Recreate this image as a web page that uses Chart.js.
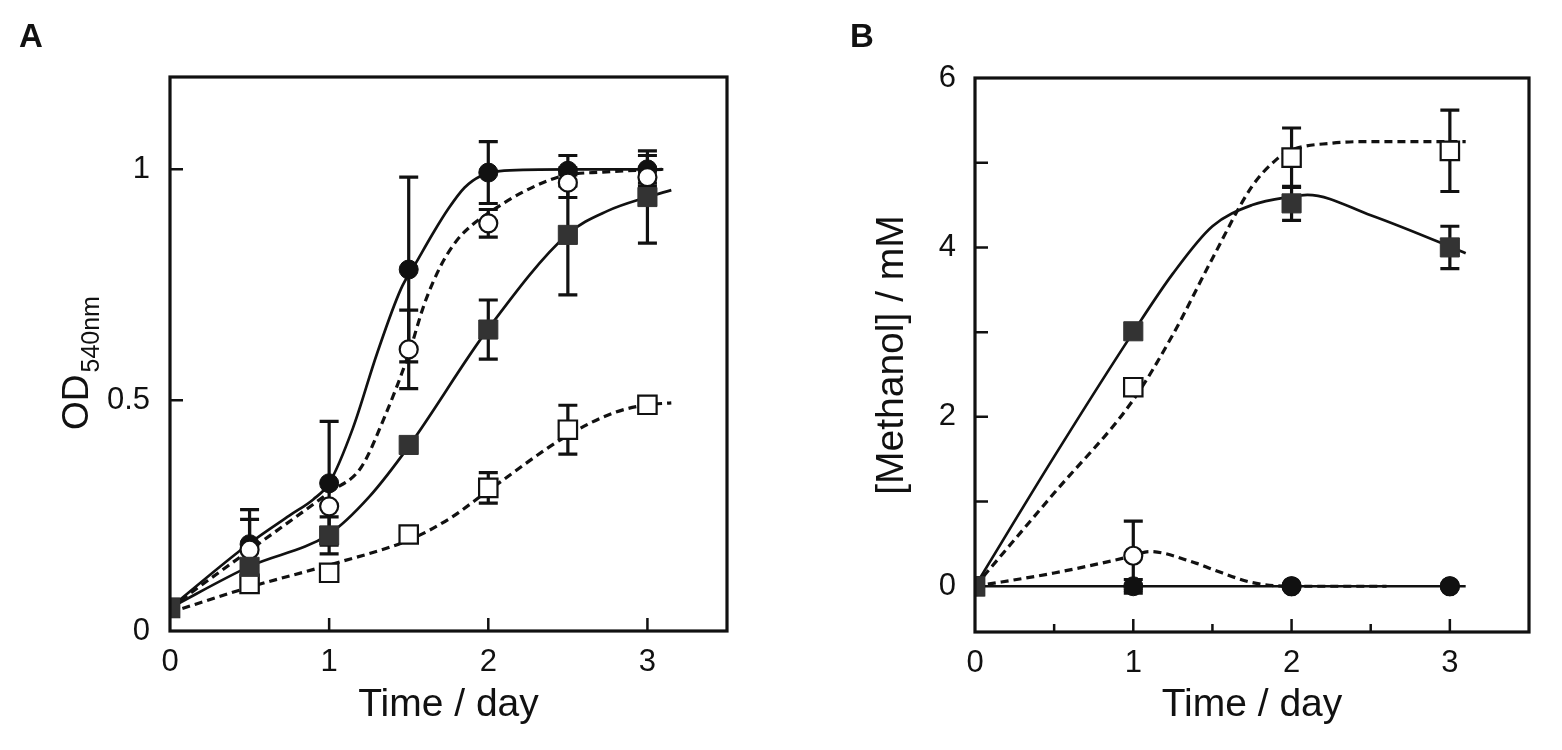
<!DOCTYPE html>
<html>
<head>
<meta charset="utf-8">
<script src="https://cdn.jsdelivr.net/npm/chart.js@4.4.1/dist/chart.umd.min.js"></script>
<style>
  body { margin: 0; background: #fff; }
  #wrap { position: relative; width: 1562px; height: 750px; overflow: hidden; }
  .panel { position: absolute; top: 0; width: 781px; height: 750px; }
  .letter { position: absolute; font: bold 33px 'Liberation Sans', Arial, sans-serif; line-height: 1; color: #111; }
</style>
</head>
<body>
<div id="wrap">
  <div class="panel" style="left:0"><canvas id="chartA" width="781" height="750"></canvas></div>
  <div class="panel" style="left:781px"><canvas id="chartB" width="781" height="750"></canvas></div>
  <div class="letter" style="left:19px;top:19px">A</div>
  <div class="letter" style="left:850px;top:19px">B</div>
</div>
<script>
// ---- panel A : OD540nm ----
const dayA = [0, 0.5, 1, 1.5, 2, 2.5, 3];
const odFilledCircle = [0.05, 0.188, 0.32, 0.783, 0.993, 0.997, 1.0];
const odFilledCircleErr = [0, 0.075, 0.134, 0.2, 0.067, 0.033, 0.03];
const odOpenCircle = [0.05, 0.176, 0.27, 0.61, 0.883, 0.971, 0.983];
const odOpenCircleErr = [0, 0.066, 0, 0.085, 0.03, 0.032, 0.02];
const odFilledSquare = [0.05, 0.139, 0.207, 0.403, 0.653, 0.858, 0.94];
const odFilledSquareErr = [0, 0, 0.04, 0, 0.064, 0.13, 0.1];
const odOpenSquare = [0.05, 0.102, 0.126, 0.209, 0.31, 0.436, 0.49];
const odOpenSquareErr = [0, 0, 0, 0, 0.033, 0.053, 0];

// fitted curves
const fitAFilledCircleX = [0, 0.5, 0.75, 0.9, 1, 1.15, 1.3, 1.45, 1.55, 1.65, 1.75, 1.85, 1.95, 2.1, 2.5, 3.1];
const fitAFilledCircleY = [0.05, 0.19, 0.25, 0.285, 0.32, 0.44, 0.6, 0.74, 0.8, 0.86, 0.915, 0.96, 0.985, 0.997, 1.0, 1.0];
const fitAOpenCircleX = [0, 0.5, 1, 1.2, 1.35, 1.5, 1.6, 1.7, 1.8, 1.9, 2, 2.23, 2.47, 2.72, 3.1];
const fitAOpenCircleY = [0.05, 0.175, 0.3, 0.354, 0.465, 0.6, 0.71, 0.79, 0.845, 0.88, 0.905, 0.953, 0.986, 0.994, 1.0];
const fitAFilledSquareX = [0, 0.5, 1, 1.25, 1.5, 2, 2.5, 2.75, 3, 3.15];
const fitAFilledSquareY = [0.05, 0.14, 0.21, 0.29, 0.4, 0.655, 0.86, 0.91, 0.94, 0.955];
const fitAOpenSquareX = [0, 0.5, 1, 1.5, 1.75, 2, 2.5, 2.8, 3, 3.15];
const fitAOpenSquareY = [0.04, 0.095, 0.143, 0.197, 0.242, 0.304, 0.424, 0.474, 0.49, 0.494];

const xLabelsA = [0, 1, 2, 3];
const yLabelsA = [0, 0.5, 1];
const xTicksA = [1, 2, 3];
const yTicksA = [0.5, 1];

// ---- panel B : methanol ----
const dayB = [0, 1, 2, 3];
const meohFilledSquare = [0, 3.01, 4.52, 4.0];
const meohFilledSquareErr = [0, 0, 0.2, 0.25];
const meohOpenSquare = [0, 2.35, 5.06, 5.14];
const meohOpenSquareErr = [0, 0, 0.35, 0.48];
const meohOpenCircle = [0, 0.36, 0, 0];
const meohOpenCircleErr = [0, 0.41, 0, 0];
const meohFilledCircle = [0, 0, 0, 0];
const meohFilledCircleErr = [0, 0.08, 0, 0];

const fitBFilledSquareX = [0, 0.5, 1, 1.25, 1.5, 1.75, 2, 2.1, 2.5, 3, 3.1];
const fitBFilledSquareY = [0, 1.53, 3.0, 3.69, 4.25, 4.5, 4.6, 4.62, 4.38, 4.01, 3.93];
const fitBOpenSquareX = [0, 0.5, 1, 1.25, 1.5, 1.75, 1.9, 2, 2.25, 2.5, 3.1];
const fitBOpenSquareY = [0, 1.1, 2.2, 2.97, 3.87, 4.72, 5.03, 5.15, 5.23, 5.25, 5.25];
const fitBOpenCircleX = [0, 0.5, 1, 1.1, 1.4, 1.5, 1.75, 2, 2.6];
const fitBOpenCircleY = [0, 0.157, 0.36, 0.41, 0.27, 0.2, 0.045, 0, 0];
const fitBFilledCircleX = [0, 3.1];
const fitBFilledCircleY = [0, 0];

const xLabelsB = [0, 1, 2, 3];
const yLabelsB = [0, 2, 4, 6];
const xTicksB = [1, 2, 3];
const xMinorTicksB = [0.5, 1.5, 2.5];
const yTicksB = [1, 2, 3, 4, 5];

const FONT = "'Liberation Sans', Arial, sans-serif";
const INK = '#111';

const pts = (xs, ys) => xs.map((x, i) => ({ x: x, y: ys[i] }));

const STYLE = {
   filledCircle: { pointStyle: 'circle', pointRadius: 9.5, backgroundColor: INK, borderColor: INK, borderWidth: 1 },
   openCircle: { pointStyle: 'circle', pointRadius: 9, backgroundColor: '#fff', borderColor: INK, borderWidth: 2.2 },
   filledSquare: { pointStyle: 'rect', pointRadius: 13.5, backgroundColor: '#333', borderColor: '#333', borderWidth: 1 },
   openSquare: { pointStyle: 'rect', pointRadius: 13, backgroundColor: '#fff', borderColor: INK, borderWidth: 2.2 },
};

function markers(xs, ys, errs, style, order) {
   return Object.assign({ data: pts(xs, ys), errorBars: errs, showLine: false, order: order }, STYLE[style]);
}

function curve(xs, ys, dashed, order) {
   return {
      data: pts(xs, ys), showLine: true, pointRadius: 0, fill: false,
      borderColor: INK, borderWidth: dashed ? 3.2 : 2.7, borderDash: dashed ? [8, 5] : [],
      cubicInterpolationMode: 'monotone', order: order,
   };
}

// frame, inward ticks and error bars
const frameTicks = {
   id: 'frameTicks',
   beforeDatasetsDraw(chart) {
      const { ctx, scales: { x, y } } = chart;
      ctx.save();
      ctx.strokeStyle = INK;
      ctx.lineWidth = 3.2;
      chart.data.datasets.forEach(ds => {
         if (!ds.errorBars) return;
         ds.data.forEach((p, i) => {
            const e = ds.errorBars[i];
            if (!e) return;
            const px = x.getPixelForValue(p.x);
            const top = y.getPixelForValue(p.y + e);
            const bot = y.getPixelForValue(p.y - e);
            ctx.beginPath();
            ctx.moveTo(px, top); ctx.lineTo(px, bot);
            ctx.moveTo(px - 9.5, top); ctx.lineTo(px + 9.5, top);
            ctx.moveTo(px - 9.5, bot); ctx.lineTo(px + 9.5, bot);
            ctx.stroke();
         });
      });
      ctx.restore();
   },
   afterDraw(chart, args, opts) {
      const { ctx, chartArea: a, scales: { x, y } } = chart;
      ctx.save();
      ctx.strokeStyle = INK;
      ctx.lineWidth = 2.5;
      ctx.beginPath();
      (opts.xMajor || []).forEach(v => { const px = x.getPixelForValue(v); ctx.moveTo(px, a.bottom); ctx.lineTo(px, a.bottom - 13); });
      (opts.xMinor || []).forEach(v => { const px = x.getPixelForValue(v); ctx.moveTo(px, a.bottom); ctx.lineTo(px, a.bottom - 8); });
      (opts.yMajor || []).forEach(v => { const py = y.getPixelForValue(v); ctx.moveTo(a.left, py); ctx.lineTo(a.left + 13, py); });
      ctx.stroke();
      ctx.lineWidth = 3.2;
      ctx.strokeRect(a.left, a.top, a.right - a.left, a.bottom - a.top);
      ctx.restore();
   }
};

// OD with subscript 540nm
const odTitle = {
   id: 'odTitle',
   afterDraw(chart) {
      const ctx = chart.ctx;
      ctx.save();
      ctx.translate(88, 430);
      ctx.rotate(-Math.PI / 2);
      ctx.fillStyle = INK;
      ctx.textAlign = 'left';
      ctx.textBaseline = 'alphabetic';
      ctx.font = '37px ' + FONT;
      ctx.fillText('OD', 0, 0);
      const w = ctx.measureText('OD').width;
      ctx.font = '25px ' + FONT;
      ctx.fillText('540nm', w + 2, 11);
      ctx.restore();
   }
};

function axisOptions(min, max, labels, size, pad, title, titlePad) {
   return {
      type: 'linear', min: min, max: max,
      grid: { display: false }, border: { display: false },
      afterBuildTicks: s => { s.ticks = labels.map(v => ({ value: v })); },
      ticks: { autoSkip: false, maxRotation: 0, padding: pad, color: INK, font: { family: FONT, size: 31 }, callback: v => String(v) },
      title: title ? { display: true, text: title, color: INK, font: { family: FONT, size: 39 }, padding: titlePad } : { display: false },
      afterFit: s => { if (s.isHorizontal()) s.height = size; else s.width = size; },
   };
}

Chart.defaults.font.family = FONT;

const chartA = new Chart(document.getElementById('chartA'), {
   type: 'scatter',
   data: {
      datasets: [
         markers(dayA, odFilledSquare, odFilledSquareErr, 'filledSquare', 0),
         markers(dayA, odOpenSquare, odOpenSquareErr, 'openSquare', 1),
         markers(dayA, odOpenCircle, odOpenCircleErr, 'openCircle', 2),
         markers(dayA, odFilledCircle, odFilledCircleErr, 'filledCircle', 3),
         curve(fitAFilledCircleX, fitAFilledCircleY, false, 10),
         curve(fitAOpenCircleX, fitAOpenCircleY, true, 11),
         curve(fitAFilledSquareX, fitAFilledSquareY, false, 12),
         curve(fitAOpenSquareX, fitAOpenSquareY, true, 13),
      ]
   },
   options: {
      responsive: false, animation: false, events: [],
      layout: { padding: { left: 0, top: 77, right: 54, bottom: 0 } },
      plugins: {
         legend: { display: false }, tooltip: { enabled: false },
         frameTicks: { xMajor: xTicksA, yMajor: yTicksA },
      },
      scales: {
         x: axisOptions(0, 3.5, xLabelsA, 119, 5, 'Time / day', { top: 0, bottom: 21 }),
         y: axisOptions(0, 1.2, yLabelsA, 170, 12, null, 0),
      }
   },
   plugins: [frameTicks, odTitle]
});

const chartB = new Chart(document.getElementById('chartB'), {
   type: 'scatter',
   data: {
      datasets: [
         markers(dayB, meohFilledSquare, meohFilledSquareErr, 'filledSquare', 0),
         markers(dayB, meohOpenSquare, meohOpenSquareErr, 'openSquare', 1),
         markers(dayB, meohFilledCircle, meohFilledCircleErr, 'filledCircle', 2),
         markers(dayB, meohOpenCircle, meohOpenCircleErr, 'openCircle', 3),
         curve(fitBFilledSquareX, fitBFilledSquareY, false, 10),
         curve(fitBOpenSquareX, fitBOpenSquareY, true, 11),
         curve(fitBOpenCircleX, fitBOpenCircleY, true, 12),
         curve(fitBFilledCircleX, fitBFilledCircleY, false, 13),
      ]
   },
   options: {
      responsive: false, animation: false, events: [],
      layout: { padding: { left: 0, top: 78, right: 33, bottom: 0 } },
      plugins: {
         legend: { display: false }, tooltip: { enabled: false },
         frameTicks: { xMajor: xTicksB, xMinor: xMinorTicksB, yMajor: yTicksB },
      },
      scales: {
         x: axisOptions(0, 3.5, xLabelsB, 118, 5, 'Time / day', { top: 0, bottom: 21 }),
         y: axisOptions(-0.54, 6, yLabelsB, 194, 11, '[Methanol] / mM', { top: 88, bottom: 0 }),
      }
   },
   plugins: [frameTicks]
});
</script>
</body>
</html>
